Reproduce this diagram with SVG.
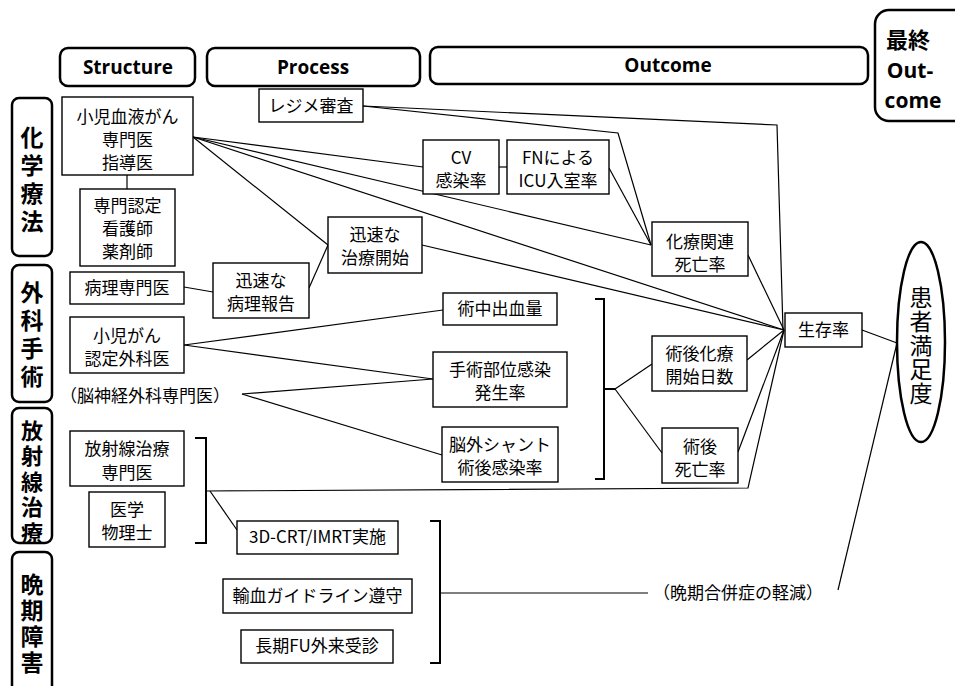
<svg xmlns="http://www.w3.org/2000/svg" width="955" height="686" viewBox="0 0 955 686">
<style>
.hdr{fill:#fff;stroke:#000;stroke-width:2.5}
.box{fill:#fff;stroke:#000;stroke-width:1.4}
.ht{font-family:"Open Sans","Liberation Sans",sans-serif;font-weight:bold;font-size:19px;text-anchor:middle}
.t{font-family:"Noto Sans CJK JP","Liberation Sans",sans-serif;font-size:17px;text-anchor:middle}
.ts{font-family:"Noto Sans CJK JP","Liberation Sans",sans-serif;font-size:17px}
.cat{font-family:"Noto Sans CJK JP",sans-serif;font-size:23px;font-weight:bold;text-anchor:middle;writing-mode:vertical-rl}
.ln{fill:none;stroke:#000;stroke-width:1.2}
.br{fill:none;stroke:#000;stroke-width:2}
</style>
<rect width="955" height="686" fill="#fff"/>
<g id="headers">
<rect class="hdr" x="60" y="48" width="135" height="38" rx="8"/>
<text class="ht" x="128" y="74">Structure</text>
<rect class="hdr" x="207" y="48" width="213" height="38" rx="8"/>
<text class="ht" x="313" y="74">Process</text>
<rect class="hdr" x="430" y="47" width="438" height="37" rx="8"/>
<text class="ht" x="668" y="72">Outcome</text>
<rect class="hdr" x="875" y="10" width="95" height="111" rx="14"/>
<text class="ht" x="908" y="48" style="font-family:'Noto Sans CJK JP',sans-serif;font-size:22px">最終</text>
<text class="ht" x="910" y="78" style="font-size:21px">Out-</text>
<text class="ht" x="913" y="108" style="font-size:21px">come</text>
</g>
<g id="categories">
<g id="cat-chemo"><rect class="hdr" x="12" y="98" width="40" height="158" rx="7"/>
<text class="cat" x="32" y="182" style="letter-spacing:5px">化学療法</text></g>
<g id="cat-surgery"><rect class="hdr" x="12" y="265" width="40" height="137" rx="7"/>
<text class="cat" x="32" y="337" style="letter-spacing:5px">外科手術</text></g>
<g id="cat-radiation"><rect class="hdr" x="12" y="408" width="40" height="135" rx="7"/>
<text class="cat" x="32" y="483" style="font-size:22px;letter-spacing:3.5px">放射線治療</text></g>
<g id="cat-late"><rect class="hdr" x="12" y="552" width="40" height="150" rx="7"/>
<text class="cat" x="32" y="625" style="letter-spacing:3px">晩期障害</text></g>
</g>
<g id="connectors">
<line class="ln" x1="127" y1="175" x2="127" y2="189"/>
<line class="ln" x1="184" y1="287" x2="213" y2="292"/>
<line class="ln" x1="309" y1="288" x2="328" y2="245"/>
<line class="ln" x1="193" y1="137" x2="423" y2="167"/>
<line class="ln" x1="193" y1="137" x2="651" y2="245"/>
<line class="ln" x1="193" y1="137" x2="784" y2="330"/>
<line class="ln" x1="193" y1="137" x2="328" y2="245"/>
<line class="ln" x1="422" y1="245" x2="784" y2="330"/>
<line class="ln" x1="499" y1="167" x2="507" y2="167"/>
<line class="ln" x1="609" y1="168" x2="651" y2="245"/>
<polyline class="ln" points="363,106 618,133 651,245"/>
<polyline class="ln" points="363,106 777,125 783,330"/>
<line class="ln" x1="748" y1="255" x2="784" y2="330"/>
<line class="ln" x1="184" y1="345" x2="443" y2="310"/>
<line class="ln" x1="184" y1="345" x2="433" y2="379"/>
<line class="ln" x1="242" y1="394" x2="433" y2="379"/>
<line class="ln" x1="242" y1="394" x2="442" y2="455"/>
<path class="br" d="M595,299 H604 V479 H595 M604,389 H615"/>
<line class="ln" x1="615" y1="389" x2="652" y2="364"/>
<line class="ln" x1="615" y1="389" x2="662" y2="453"/>
<line class="ln" x1="747" y1="360" x2="784" y2="330"/>
<line class="ln" x1="738" y1="452" x2="784" y2="330"/>
<path class="br" d="M195,438 H206 V543 H195"/>
<polyline class="ln" points="206,491 748,488 784,330"/>
<line class="ln" x1="210" y1="491" x2="237" y2="530"/>
<path class="br" d="M430,521 H440 V663 H430"/>
<line class="ln" x1="440" y1="593" x2="648" y2="593"/>
<line class="ln" x1="862" y1="330" x2="897" y2="343"/>
<line class="ln" x1="838" y1="590" x2="897" y2="343"/>
</g>
<g id="n-shoni"><rect class="box" x="62" y="97" width="131" height="78"/>
<text class="t" x="127.5" y="123">小児血液がん</text><text class="t" x="127.5" y="146">専門医</text><text class="t" x="127.5" y="169">指導医</text></g>
<g id="n-nurse"><rect class="box" x="80" y="189" width="95" height="77"/>
<text class="t" x="127.5" y="212">専門認定</text><text class="t" x="127.5" y="235">看護師</text><text class="t" x="127.5" y="258">薬剤師</text></g>
<g id="n-pathologist"><rect class="box" x="70" y="272" width="114" height="32"/>
<text class="t" x="127" y="294">病理専門医</text></g>
<g id="n-surgeon"><rect class="box" x="70" y="317" width="114" height="56"/>
<text class="t" x="127" y="342">小児がん</text><text class="t" x="127" y="365">認定外科医</text></g>
<g id="n-neuro"><text class="ts" x="60" y="402">（脳神経外科専門医）</text></g>
<g id="n-radiologist"><rect class="box" x="70" y="431" width="114" height="55"/>
<text class="t" x="127" y="455">放射線治療</text><text class="t" x="127" y="479">専門医</text></g>
<g id="n-physicist"><rect class="box" x="89" y="492" width="76" height="55"/>
<text class="t" x="127" y="516">医学</text><text class="t" x="127" y="539">物理士</text></g>
<g id="n-regimen"><rect class="box" x="259" y="89" width="104" height="33"/>
<text class="t" x="311" y="112">レジメ審査</text></g>
<g id="n-cv"><rect class="box" x="423" y="140" width="76" height="54"/>
<text class="t" x="461" y="164">CV</text><text class="t" x="461" y="187">感染率</text></g>
<g id="n-fn"><rect class="box" x="507" y="140" width="102" height="54"/>
<text class="t" x="558" y="164">FNによる</text><text class="t" x="558" y="187">ICU入室率</text></g>
<g id="n-treat"><rect class="box" x="328" y="217" width="94" height="56"/>
<text class="t" x="375" y="241">迅速な</text><text class="t" x="375" y="264">治療開始</text></g>
<g id="n-report"><rect class="box" x="213" y="263" width="96" height="55"/>
<text class="t" x="261" y="287">迅速な</text><text class="t" x="261" y="310">病理報告</text></g>
<g id="n-chemodeath"><rect class="box" x="652" y="222" width="96" height="54"/>
<text class="t" x="700" y="248">化療関連</text><text class="t" x="700" y="271">死亡率</text></g>
<g id="n-bleed"><rect class="box" x="443" y="293" width="114" height="32"/>
<text class="t" x="500" y="315">術中出血量</text></g>
<g id="n-ssi"><rect class="box" x="433" y="352" width="134" height="55"/>
<text class="t" x="500" y="376">手術部位感染</text><text class="t" x="500" y="399">発生率</text></g>
<g id="n-shunt"><rect class="box" x="442" y="427" width="116" height="55"/>
<text class="t" x="500" y="451">脳外シャント</text><text class="t" x="500" y="474">術後感染率</text></g>
<g id="n-postchemo"><rect class="box" x="652" y="336" width="95" height="55"/>
<text class="t" x="699.5" y="360">術後化療</text><text class="t" x="699.5" y="383">開始日数</text></g>
<g id="n-postdeath"><rect class="box" x="662" y="428" width="76" height="55"/>
<text class="t" x="700" y="453">術後</text><text class="t" x="700" y="476">死亡率</text></g>
<g id="n-survival"><rect class="box" x="785" y="313" width="77" height="34"/>
<text class="t" x="823.5" y="336">生存率</text></g>
<g id="n-3d"><rect class="box" x="237" y="521" width="161" height="33"/>
<text class="t" x="317.5" y="543">3D-CRT/IMRT実施</text></g>
<g id="n-transfusion"><rect class="box" x="223" y="579" width="189" height="34"/>
<text class="t" x="317.5" y="602">輸血ガイドライン遵守</text></g>
<g id="n-fu"><rect class="box" x="241" y="630" width="152" height="33"/>
<text class="t" x="317" y="652">長期FU外来受診</text></g>
<g id="n-latecomp"><text class="ts" x="653" y="599">（晩期合併症の軽減）</text></g>
<g id="n-satisfaction"><ellipse cx="921" cy="342" rx="24" ry="100" fill="#fff" stroke="#000" stroke-width="2.5"/>
<text class="cat" x="921" y="346" style="font-weight:normal;font-size:23px;letter-spacing:1px">患者満足度</text></g>
</svg>
